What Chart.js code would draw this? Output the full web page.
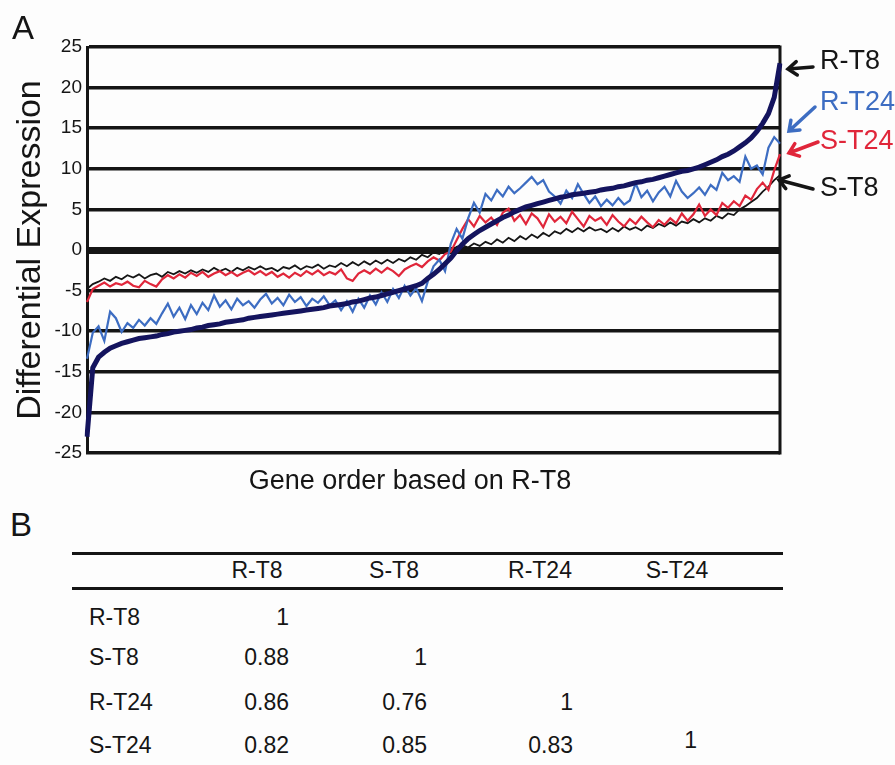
<!DOCTYPE html>
<html>
<head>
<meta charset="utf-8">
<script src="https://cdn.jsdelivr.net/npm/chart.js@4.4.1/dist/chart.umd.min.js"></script>
<style>
  body { margin: 0; background: #fdfdfd; font-family: "Liberation Sans", Arial, sans-serif; color: #151515; }
  #page { position: relative; width: 895px; height: 765px; overflow: hidden; }
  #chartBox { position: absolute; left: 0; top: 0; width: 895px; height: 470px; }
  .txt { position: absolute; line-height: 1; white-space: nowrap; transform: translate(0, -50%); }
  .txt.right { transform: translate(-100%, -50%); }
  .txt.center { transform: translate(-50%, -50%); }
  .rule { position: absolute; left: 72px; width: 711px; height: 3px; background: #151515; }
</style>
</head>
<body>
<div id="page">
  <div id="chartBox"><canvas id="exprChart"></canvas></div>
  <div class="txt" style="left:12px; top:27px; font-size:33px;">A</div>
  <div class="txt center" style="left:410px; top:480px; font-size:27px;">Gene order based on R-T8</div>
  <div id="sideLabels"></div>
  <div class="txt" style="left:10px; top:524px; font-size:33px;">B</div>
  <div class="rule" style="top:552px;"></div>
  <div class="rule" style="top:587px;"></div>
  <div id="corrTable"></div>
</div>
<script>
// 시료 이름
const sampleNames = ['R-T8', 'S-T8', 'R-T24', 'S-T24'];

// 그림에서 읽은 값 (R-T8 기준 유전자 순서, 121 구간)
const rT8 = [
  -23, -14.5, -13.2, -12.6, -12.1, -11.8, -11.5, -11.3, -11.1, -10.9,
  -10.8, -10.7, -10.6, -10.4, -10.3, -10.1, -10.0, -9.9, -9.8, -9.6,
  -9.5, -9.3, -9.2, -9.1, -8.9, -8.8, -8.7, -8.6, -8.4, -8.3,
  -8.2, -8.1, -8.0, -7.9, -7.8, -7.7, -7.6, -7.5, -7.4, -7.3,
  -7.2, -7.1, -6.9, -6.8, -6.7, -6.6, -6.4, -6.3, -6.1, -5.9,
  -5.8, -5.6, -5.4, -5.2, -5.0, -4.8, -4.6, -4.4, -4.1, -3.5,
  -3.0, -2.4, -1.7, -1.0, -0.1, 0.7, 1.4, 1.9, 2.4, 2.8,
  3.2, 3.6, 4.0, 4.3, 4.7, 5.0, 5.3, 5.5, 5.7, 5.9,
  6.1, 6.3, 6.5, 6.6, 6.8, 6.9, 7.0, 7.1, 7.2, 7.4,
  7.5, 7.6, 7.8, 7.9, 8.1, 8.3, 8.4, 8.6, 8.7, 8.9,
  9.1, 9.3, 9.5, 9.7, 9.8, 10.0, 10.2, 10.5, 10.8, 11.1,
  11.5, 11.8, 12.2, 12.7, 13.2, 13.8, 14.6, 15.6, 16.8, 18.8,
  23
];
const sT8 = [
  -4.8, -4.2, -3.9, -3.5, -3.8, -3.3, -3.6, -3.1, -3.4, -3.0,
  -3.5, -3.1, -2.9, -3.3, -2.7, -3.0, -2.6, -2.9, -2.5, -2.8,
  -2.4, -2.7, -2.2, -2.6, -2.3, -2.7, -2.2, -2.5, -2.1, -2.4,
  -2.0, -2.4, -2.2, -2.6, -2.1, -2.3, -1.9, -2.4, -2.0, -2.2,
  -1.8, -2.3, -1.9, -2.1, -1.6, -2.0, -1.5, -1.9, -1.4, -1.8,
  -1.3, -1.7, -1.2, -1.6, -1.1, -1.4, -0.9, -1.2, -0.6, -0.9,
  -0.3, -0.5, 0.1, -0.2, 0.4, 0.6, 0.3, 0.8, 0.5, 1.0,
  0.7, 1.3, 0.9, 1.5, 1.1, 1.7, 1.3, 1.9, 1.5, 2.1,
  1.7, 2.3, 2.0, 2.6, 2.2, 2.7, 2.3, 2.8, 2.4, 2.6,
  2.2, 2.7, 2.3, 2.9, 2.5, 2.8, 2.4, 3.0, 2.7, 3.2,
  2.9, 3.4, 3.0, 3.5, 3.3, 3.8, 3.4, 3.9, 3.6, 4.2,
  3.9, 4.5, 4.3, 5.0, 5.4, 5.9, 6.4, 7.2, 7.8, 8.6,
  9.2
];
const rT24 = [
  -13.4, -10.2, -9.4, -11.2, -7.6, -8.4, -10.1, -9.0, -9.6, -8.6,
  -9.3, -8.4, -9.1, -7.8, -6.6, -8.2, -7.1, -8.5, -6.8, -7.9,
  -6.5, -7.4, -5.6, -7.0, -6.2, -7.3, -6.0, -6.8, -6.3, -7.1,
  -6.1, -5.4, -6.6, -5.9, -6.8, -5.5, -6.4, -5.8, -6.9, -6.0,
  -6.5, -5.7, -6.8, -6.2, -7.4, -6.3, -7.6, -6.0, -7.1, -5.6,
  -6.7, -5.2, -6.4, -4.8, -5.9, -4.4, -5.6, -4.7, -6.3, -3.9,
  -2.0, -1.2, -2.6, 0.8, 2.6, 1.4, 3.9, 5.8, 4.6, 6.9,
  6.1, 7.4, 6.6, 7.8, 7.0, 7.6, 8.3, 9.0, 8.1, 8.6,
  7.2, 6.6, 5.7, 7.3, 6.4, 8.1, 6.9, 5.8, 6.6, 5.4,
  6.2, 5.5, 6.4, 5.6, 6.1, 8.2, 6.5, 7.3, 6.0, 7.1,
  7.8, 6.6, 8.5, 7.2, 6.4, 7.0, 7.7, 6.8, 8.0, 7.4,
  9.5, 8.6, 9.1, 8.4, 11.5, 10.0, 10.4, 9.3, 12.6, 13.9,
  13.1
];
const sT24 = [
  -6.4, -4.8, -4.4, -4.0, -4.5, -4.1, -4.3, -3.9, -4.4, -4.6,
  -3.8, -4.2, -4.5, -3.6, -3.1, -3.5, -3.0, -3.4, -2.8, -3.2,
  -2.7, -3.3, -2.9, -2.6, -3.1, -2.7, -3.2, -2.8, -2.5, -3.0,
  -2.6, -3.1, -2.7, -3.3, -2.9, -3.4, -2.8, -3.2, -2.6, -3.0,
  -2.5, -3.1, -2.7, -3.0, -2.4, -3.5, -3.8, -2.9, -2.5, -2.9,
  -2.3, -2.8, -2.2, -2.6, -3.2, -2.4, -2.0, -1.7, -2.1, -1.4,
  -0.9, -1.3, -0.5, -0.2, 1.2, 2.6, 3.8, 2.9, 4.2, 3.4,
  4.0, 3.1, 4.6, 5.1, 3.6, 4.3, 3.2, 4.5, 3.9, 2.8,
  4.4, 3.5, 4.1, 3.3, 4.7, 3.8, 2.9, 4.2, 3.6, 4.0,
  3.1, 4.3, 3.5, 2.9, 3.8, 3.2, 4.1, 3.4, 2.8, 3.7,
  3.1, 3.9, 3.3, 4.5, 3.6, 4.4, 5.6, 4.2, 5.0, 4.3,
  5.8, 5.2, 6.0, 5.4, 6.7, 6.2, 7.5, 8.3, 7.4, 9.8,
  11.8
];
const geneOrder = rT8.map((_, i) => i);

// y축 눈금
const yTicks = [-25, -20, -15, -10, -5, 0, 5, 10, 15, 20, 25];

// 상관계수 표 (아래 삼각)
const corrValues = [
  [1],
  [0.88, 1],
  [0.86, 0.76, 1],
  [0.82, 0.85, 0.83, 1]
];

const colors = { rT8: '#14145e', sT8: '#151515', rT24: '#3d6dc2', sT24: '#e0263a' };

// 오른쪽 화살표 (라벨 쪽 -> 선 끝)
const arrows = [
  { from: [813, 67], to: [788, 69], color: colors.sT8 },
  { from: [815, 107], to: [789, 131], color: colors.rT24 },
  { from: [818, 142], to: [789, 153], color: colors.sT24 },
  { from: [813, 189], to: [779, 180], color: colors.sT8 }
];

const framePlugin = {
  id: 'frameAndArrows',
  beforeDatasetsDraw(chart) {
    const { ctx, chartArea: a } = chart;
    ctx.save();
    ctx.strokeStyle = '#151515';
    ctx.lineWidth = 3;
    ctx.beginPath();
    ctx.moveTo(a.right, a.top - 1.5);
    ctx.lineTo(a.right, a.bottom + 1.5);
    ctx.stroke();
    ctx.restore();
  },
  afterDraw(chart) {
    const ctx = chart.ctx;
    ctx.save();
    ctx.lineWidth = 3.5;
    ctx.lineCap = 'round';
    arrows.forEach(ar => {
      const [x1, y1] = ar.from;
      const [x2, y2] = ar.to;
      const ang = Math.atan2(y1 - y2, x1 - x2);
      ctx.strokeStyle = ar.color;
      ctx.beginPath();
      ctx.moveTo(x1, y1);
      ctx.lineTo(x2, y2);
      ctx.moveTo(x2 + 11 * Math.cos(ang + 0.65), y2 + 11 * Math.sin(ang + 0.65));
      ctx.lineTo(x2, y2);
      ctx.lineTo(x2 + 11 * Math.cos(ang - 0.65), y2 + 11 * Math.sin(ang - 0.65));
      ctx.stroke();
    });
    ctx.restore();
  }
};

function lineSet(label, data, color, width) {
  return {
    label: label,
    data: data,
    borderColor: color,
    backgroundColor: color,
    borderWidth: width,
    pointRadius: 0,
    tension: 0,
    fill: false
  };
}

const ctx = document.getElementById('exprChart').getContext('2d');
new Chart(ctx, {
  type: 'line',
  data: {
    labels: geneOrder,
    datasets: [
      lineSet('R-T8', rT8, colors.rT8, 5),
      lineSet('R-T24', rT24, colors.rT24, 2.2),
      lineSet('S-T24', sT24, colors.sT24, 2.2),
      lineSet('S-T8', sT8, colors.sT8, 1.8)
    ]
  },
  options: {
    responsive: true,
    maintainAspectRatio: false,
    animation: false,
    layout: { padding: { left: 0, top: 47, right: 115, bottom: 17 } },
    plugins: { legend: { display: false }, tooltip: { enabled: false } },
    scales: {
      x: { display: false },
      y: {
        min: -25,
        max: 25,
        afterFit: scale => { scale.width = 87; },
        afterBuildTicks: scale => { scale.ticks = yTicks.map(v => ({ value: v })); },
        border: { display: true, color: '#151515', width: 3 },
        grid: {
          color: '#151515',
          lineWidth: c => (c.tick && c.tick.value === 0 ? 7 : 3.5),
          drawTicks: false
        },
        ticks: {
          padding: 5,
          color: '#151515',
          font: { family: '"Liberation Sans", Arial, sans-serif', size: 19 }
        },
        title: {
          display: true,
          text: 'Differential Expression',
          color: '#151515',
          padding: { top: 10, bottom: 0 },
          font: { family: '"Liberation Sans", Arial, sans-serif', size: 34 }
        }
      }
    }
  },
  plugins: [framePlugin]
});

// 오른쪽 시료 라벨
const sideLabels = [
  { text: 'R-T8', y: 60, color: colors.sT8 },
  { text: 'R-T24', y: 101, color: colors.rT24 },
  { text: 'S-T24', y: 140, color: colors.sT24 },
  { text: 'S-T8', y: 187, color: colors.sT8 }
];
const sideBox = document.getElementById('sideLabels');
sideLabels.forEach(l => {
  const d = document.createElement('div');
  d.className = 'txt';
  d.style.cssText = `left:820px; top:${l.y}px; font-size:27px; color:${l.color};`;
  d.textContent = l.text;
  sideBox.appendChild(d);
});

// 표 그리기
const table = document.getElementById('corrTable');
const headX = [257, 394, 540, 677];
const valX = [289, 427, 573, 697];
const rowY = [617, 657, 702, 745];
function cell(text, x, y, cls) {
  const d = document.createElement('div');
  d.className = 'txt' + (cls ? ' ' + cls : '');
  d.style.cssText = `left:${x}px; top:${y}px; font-size:23px;`;
  d.textContent = text;
  table.appendChild(d);
}
sampleNames.forEach((name, c) => cell(name, headX[c], 570, 'center'));
corrValues.forEach((row, r) => {
  cell(sampleNames[r], 89, rowY[r]);
  row.forEach((v, c) => {
    const y = (r === 3 && c === 3) ? rowY[r] - 5 : rowY[r];
    cell(String(v), valX[c], y, 'right');
  });
});
</script>
</body>
</html>
